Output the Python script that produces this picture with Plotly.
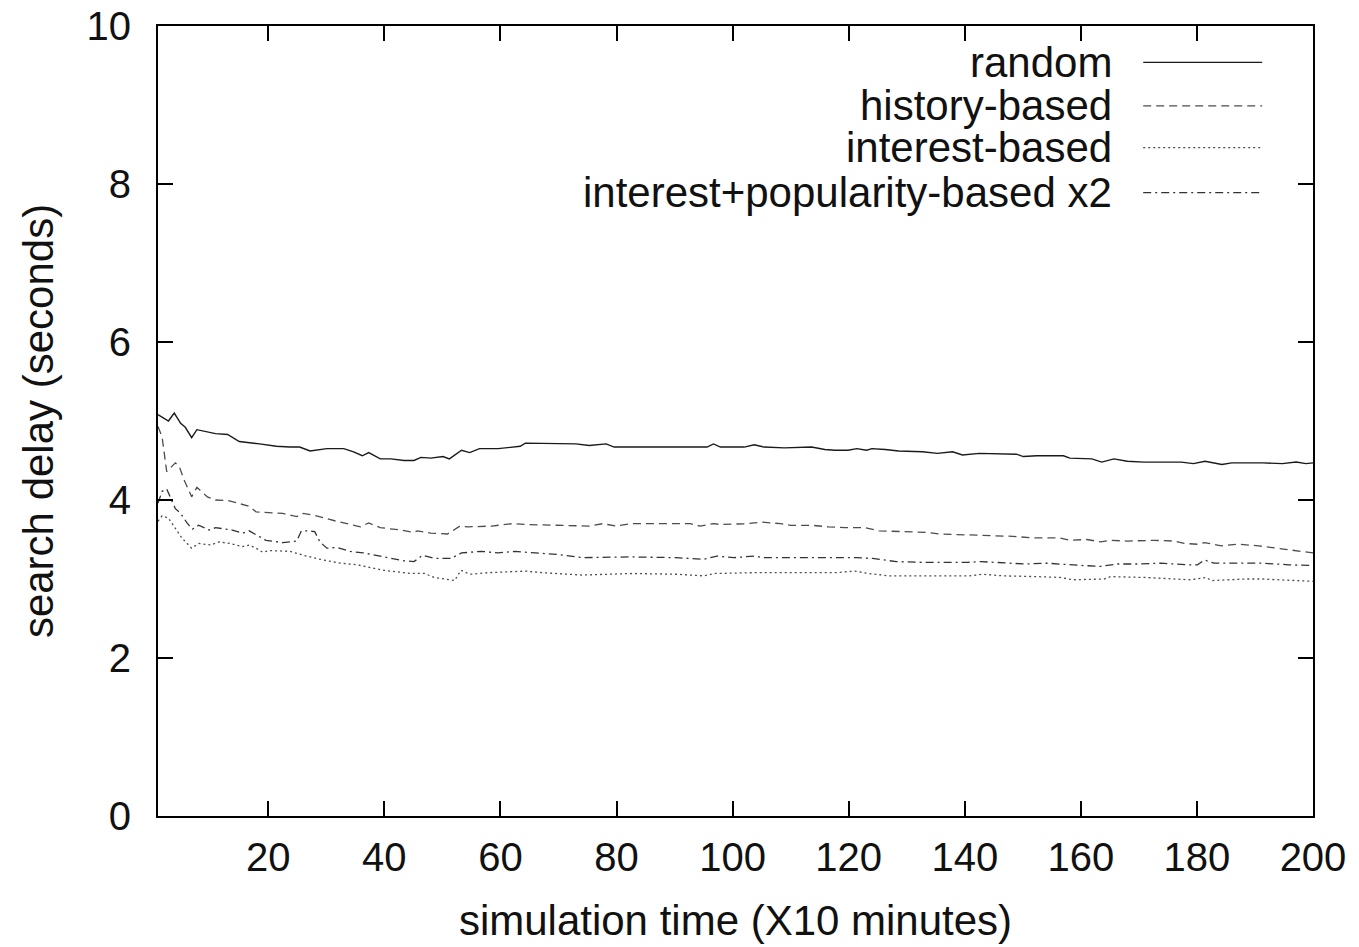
import plotly.graph_objects as go

# ---------------- data ----------------
random_x = [1, 2.8, 3.8, 4.9, 5.7, 6.8, 7.7, 9.8, 10.9, 13, 15, 18.5, 21.4, 23.7, 25.4, 27.2, 28.3, 30.1,
            33, 34.7, 36.2, 37.3, 39.3, 41.1, 43.4, 45.1, 46.3, 48, 50.1, 51.2, 53.3, 54.7, 56.4, 59.6,
            63.4, 64.3, 73, 75.3, 78.2, 79.6, 84.6, 95.6, 96.7, 97.9, 102, 103.7, 105.4, 108.9, 113.6,
            115.9, 117.6, 119.9, 121.4, 123.1, 124, 126.3, 128.6, 132.7, 135.3, 137.9, 139.6, 142.5,
            148.9, 150.1, 152.4, 157, 158.1, 161.9, 163.6, 165.7, 168, 170.9, 177.3, 179.4, 181.4,
            184.3, 186, 191.3, 194.7, 197.1, 198.8, 200]
random_y = [5.08, 5.00, 5.10, 4.97, 4.92, 4.79, 4.89, 4.86, 4.84, 4.83, 4.74, 4.71, 4.68, 4.67, 4.67, 4.62,
            4.63, 4.65, 4.65, 4.61, 4.56, 4.60, 4.52, 4.52, 4.50, 4.50, 4.54, 4.53, 4.55, 4.52, 4.63,
            4.60, 4.65, 4.65, 4.68, 4.72, 4.71, 4.69, 4.71, 4.67, 4.67, 4.67, 4.71, 4.67, 4.67, 4.70,
            4.67, 4.66, 4.67, 4.64, 4.63, 4.63, 4.65, 4.63, 4.65, 4.64, 4.62, 4.61, 4.59, 4.61, 4.57,
            4.59, 4.58, 4.55, 4.56, 4.56, 4.53, 4.52, 4.48, 4.52, 4.49, 4.48, 4.48, 4.46, 4.49, 4.45,
            4.47, 4.47, 4.46, 4.48, 4.46, 4.47]

history_x = [1, 1.7, 2.5, 4, 4.7, 5.4, 6.8, 7.7, 9.5, 10.9, 13.3, 16.7, 17.9, 22.5, 24.9, 26, 28.3, 31.8,
             35.9, 37.3, 39.3, 42.8, 45.1, 45.7, 48, 50.9, 53, 54.4, 58.5, 62, 64.3, 75.3, 77.6, 80,
             82.3, 92.7, 94.4, 96.7, 97.9, 102.5, 104.9, 108.3, 110, 113.6, 116.5, 119.4, 122.9, 125.2,
             129.3, 133.3, 135.6, 139.6, 143.1, 148.3, 151.8, 156.4, 158.1, 161, 163.4, 165.1, 168,
             172.6, 176.1, 177.8, 180.1, 181.3, 184.2, 187.1, 190.6, 194.7, 198.1, 200]
history_y = [4.93, 4.80, 4.36, 4.47, 4.42, 4.27, 4.04, 4.16, 4.04, 4.00, 3.99, 3.92, 3.85, 3.83, 3.79,
             3.83, 3.80, 3.73, 3.66, 3.71, 3.65, 3.62, 3.59, 3.61, 3.58, 3.57, 3.67, 3.66, 3.67, 3.70,
             3.69, 3.67, 3.70, 3.67, 3.70, 3.70, 3.67, 3.70, 3.69, 3.70, 3.72, 3.70, 3.68, 3.68, 3.66,
             3.65, 3.65, 3.61, 3.60, 3.59, 3.57, 3.56, 3.55, 3.54, 3.52, 3.52, 3.49, 3.50, 3.47, 3.49,
             3.48, 3.49, 3.48, 3.45, 3.44, 3.46, 3.42, 3.44, 3.42, 3.38, 3.35, 3.33]

interest_x = [1, 1.7, 2.8, 4, 5.1, 6.8, 8, 10.1, 11.5, 13.3, 15.6, 16.7, 17.9, 19, 20.2, 23.7, 26.6, 29.5,
              32.4, 35.3, 39.9, 44.6, 46.9, 48.6, 51.2, 52.1, 53.2, 54.7, 57.9, 64.3, 67.2, 74.1, 82.8,
              90.3, 95, 97, 103.7, 108.9, 114.7, 117.6, 121.1, 123.4, 126.9, 130.4, 135, 140.8, 143.1,
              146.6, 152.4, 156.4, 158.7, 164, 165.1, 170.9, 178.8, 181.6, 182.5, 188.3, 191.2, 195.8, 200]
interest_y = [3.73, 3.80, 3.77, 3.64, 3.52, 3.39, 3.45, 3.43, 3.47, 3.45, 3.41, 3.43, 3.39, 3.34, 3.36,
              3.35, 3.29, 3.24, 3.20, 3.18, 3.11, 3.07, 3.07, 3.02, 2.99, 2.98, 3.11, 3.06, 3.08, 3.10,
              3.08, 3.05, 3.07, 3.06, 3.04, 3.07, 3.08, 3.08, 3.08, 3.08, 3.10, 3.07, 3.04, 3.04, 3.04,
              3.04, 3.06, 3.04, 3.03, 3.02, 2.99, 3.00, 3.03, 3.02, 2.99, 3.02, 2.98, 3.00, 3.00, 2.98, 2.97]

pop_x = [1, 1.7, 2.5, 3.4, 4, 4.9, 6, 6.9, 8, 9.8, 10.9, 13.8, 15.6, 16.7, 17.9, 19.6, 22.5, 24.9, 25.7,
         26.6, 28, 28.9, 30.1, 31.8, 34.1, 36.4, 39.9, 43.4, 45.1, 46.6, 48.6, 51.5, 53.3, 56.7, 59.6,
         62.5, 66, 70, 74.1, 78.7, 82.2, 90.3, 95, 97.3, 100.2, 103.7, 105.4, 112.3, 117, 121.4, 124.1,
         128.2, 133.4, 140.4, 142.8, 147.4, 150.3, 154.1, 157.5, 160.4, 163.4, 166.3, 169.7, 173.8,
         178.4, 180.1, 181.3, 183, 186.5, 191.2, 195.8, 200]
pop_y = [3.96, 4.11, 4.14, 4.00, 3.89, 3.83, 3.71, 3.63, 3.68, 3.62, 3.65, 3.62, 3.58, 3.61, 3.56, 3.49,
         3.46, 3.48, 3.61, 3.61, 3.60, 3.47, 3.39, 3.40, 3.35, 3.33, 3.28, 3.23, 3.22, 3.30, 3.26, 3.26,
         3.33, 3.35, 3.33, 3.35, 3.33, 3.31, 3.27, 3.28, 3.28, 3.27, 3.25, 3.29, 3.27, 3.29, 3.27, 3.27,
         3.27, 3.27, 3.26, 3.22, 3.21, 3.21, 3.22, 3.20, 3.19, 3.20, 3.18, 3.17, 3.16, 3.19, 3.19, 3.20,
         3.18, 3.18, 3.24, 3.20, 3.20, 3.20, 3.18, 3.17]

series_names = ["random", "history-based", "interest-based", "interest+popularity-based x2"]
x_ticks = [20, 40, 60, 80, 100, 120, 140, 160, 180, 200]
y_ticks = [0, 2, 4, 6, 8, 10]

# ---------------- styles ----------------
FONT = "Liberation Sans, Arial, sans-serif"
styles = [
    dict(color="#1a1a1a", width=1.4, dash="solid"),
    dict(color="#4d4d4d", width=1.3, dash="8px,5px"),
    dict(color="#4d4d4d", width=1.3, dash="2px,3px"),
    dict(color="#333333", width=1.3, dash="8px,4px,2px,4px"),
]

fig = go.Figure()
all_x = [random_x, history_x, interest_x, pop_x]
all_y = [random_y, history_y, interest_y, pop_y]
for name, xs, ys, st in zip(series_names, all_x, all_y, styles):
    fig.add_trace(go.Scatter(x=xs, y=ys, mode="lines", name=name, line=st, showlegend=False))

# gnuplot-style legend: right-aligned text followed by a line sample
row_y = [0.954, 0.899, 0.846, 0.789]
for name, st, ry in zip(series_names, styles, row_y):
    fig.add_annotation(x=0.828, y=ry, xref="paper", yref="paper", text=name, showarrow=False,
                       xanchor="right", yanchor="middle", font=dict(family=FONT, size=42, color="#111"))
    fig.add_shape(type="line", xref="paper", yref="paper", x0=0.853, x1=0.956, y0=ry, y1=ry,
                  line=dict(color=st["color"], width=st["width"], dash=st["dash"]))

axis_common = dict(showgrid=False, zeroline=False, showline=True, linecolor="black", linewidth=2,
                   mirror="allticks", ticks="inside", ticklen=15, tickwidth=2, tickcolor="black",
                   automargin=False, ticklabeloverflow="allow",
                   tickfont=dict(family=FONT, size=40, color="#111"))

fig.update_xaxes(range=[1, 200], tickvals=x_ticks, ticklabelstandoff=5,
                 title=dict(text="simulation time (X10 minutes)", font=dict(family=FONT, size=42, color="#111"),
                            standoff=28),
                 **axis_common)
fig.update_yaxes(range=[0, 10], tickvals=y_ticks, ticklabelstandoff=17,
                 title=dict(text="search delay (seconds)", font=dict(family=FONT, size=42, color="#111"),
                            standoff=20),
                 **axis_common)

# page body has an 8px margin: size the figure so the plot frame lands where the reference has it
fig.update_layout(width=1351, height=939, plot_bgcolor="white", paper_bgcolor="white",
                  margin=dict(l=150, r=46, t=18, b=131), showlegend=False)

fig.write_html("out.html")
